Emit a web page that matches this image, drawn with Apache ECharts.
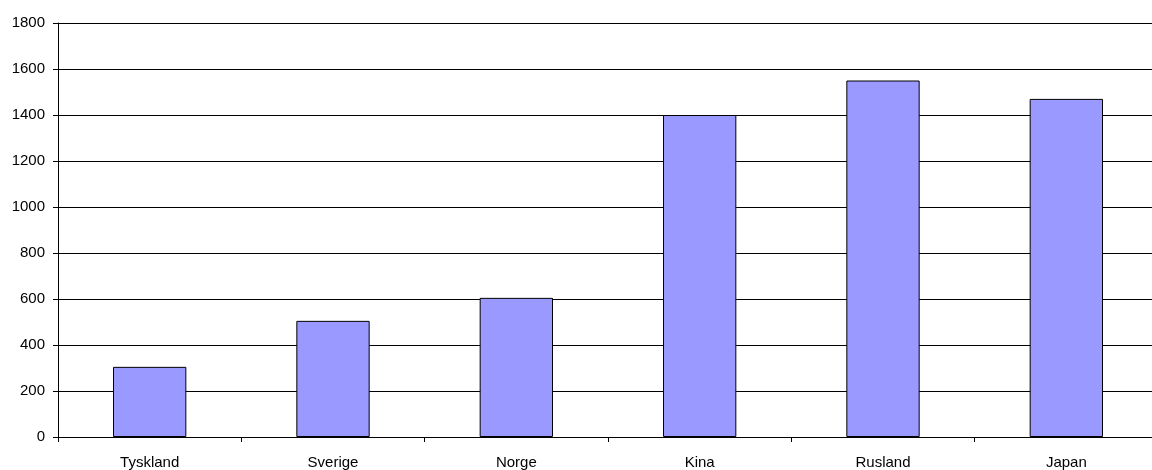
<!DOCTYPE html>
<html>
<head>
<meta charset="utf-8">
<script src="https://cdn.jsdelivr.net/npm/echarts@6/dist/echarts.min.js"></script>
<style>
  html, body { margin: 0; padding: 0; background: #fff; overflow: hidden; }
  #chart { width: 1158px; height: 470px; }
</style>
</head>
<body>
<div id="chart"></div>
<script>
  // landene og værdier
  var countries = ['Tyskland', 'Sverige', 'Norge', 'Kina', 'Rusland', 'Japan'];
  var values = [305, 505, 605, 1400, 1550, 1470];

  var myChart = echarts.init(document.getElementById('chart'));
  var option = {
    animation: false,
    grid: {
      left: 58,
      right: 0,
      top: 23,
      bottom: 33
    },
    xAxis: {
      type: 'category',
      data: countries,
      axisLine: { lineStyle: { color: '#000', width: 1 } },
      axisTick: { show: true, length: 5, lineStyle: { color: '#000' } },
      axisLabel: {
        color: '#000',
        fontFamily: 'Liberation Sans',
        fontSize: 15,
        margin: 18
      }
    },
    yAxis: {
      type: 'value',
      min: 0,
      max: 1800,
      interval: 200,
      axisLine: { show: true, lineStyle: { color: '#000', width: 1 } },
      axisTick: { show: true, length: 5, lineStyle: { color: '#000' } },
      axisLabel: {
        color: '#000',
        fontFamily: 'Liberation Sans',
        fontSize: 15,
        margin: 13,
        formatter: function (v) { return String(v); }
      },
      splitLine: { lineStyle: { color: '#000', width: 1 } }
    },
    series: [
      {
        type: 'bar',
        data: values,
        barWidth: '40%',
        itemStyle: {
          color: '#9999ff',
          borderColor: '#000',
          borderWidth: 1
        }
      }
    ]
  };
  myChart.setOption(option);
</script>
</body>
</html>
